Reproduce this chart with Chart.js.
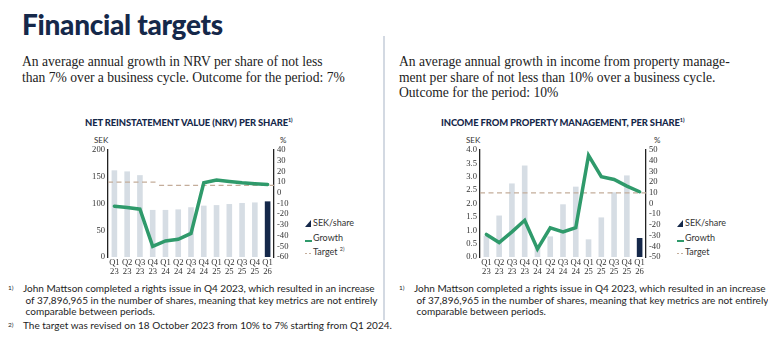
<!DOCTYPE html>
<html>
<head>
<meta charset="utf-8">
<script src="https://cdn.jsdelivr.net/npm/chart.js@4.4.1/dist/chart.umd.min.js"></script>
<style>
  body { margin: 0; width: 768px; height: 341px; background: #fff; position: relative; overflow: hidden; font-family: Lato, sans-serif; color: #2b2b2b; }
  .abs { position: absolute; white-space: nowrap; }
  h1 { position: absolute; left: 22px; top: 7px; margin: 0; font: 900 28px Lato, sans-serif; color: #15284a; letter-spacing: -0.3px; }
  .lead { position: absolute; font: 13.6px "Liberation Serif", serif; line-height: 15.5px; color: #222; }
  .ctitle { position: absolute; font: 900 9.4px Lato, sans-serif; color: #15284a; letter-spacing: -0.1px; white-space: nowrap; }
  .ctitle sup { font-size: 5.5px; }
  .unit { position: absolute; font: 8px Lato, sans-serif; color: #333; }
  .legend { position: absolute; font: 9px Lato, sans-serif; color: #333; white-space: nowrap; }
  .legend div { height: 14.5px; position: relative; padding-left: 8px; }
  .legend sup { font-size: 5.5px; }
  .icon-bar { position: absolute; left: 0; top: 3px; width: 0; height: 0; border-left: 6px solid transparent; border-bottom: 7px solid #15284a; }
  .icon-line { position: absolute; left: 0; top: 8px; width: 7px; height: 2px; background: #2f9a6b; }
  .icon-dash { position: absolute; left: 0; top: 7px; width: 8px; height: 1px; background: repeating-linear-gradient(90deg, #c4ad9a 0 2px, transparent 2px 4px); }
  .note { position: absolute; font: 10px Lato, sans-serif; color: #1e1e1e; line-height: 11.5px; white-space: nowrap; }
  .note .n { position: absolute; left: -15px; font-size: 6.5px; top: -1px; }
  .divider { position: absolute; left: 383px; top: 36px; width: 2px; height: 284px; background: #d3d9e2; }
</style>
</head>
<body>
<h1>Financial targets</h1>
<div class="lead" style="left:22px; top:54px;">An average annual growth in NRV per share of not less<br>than 7% over a business cycle. Outcome for the period: 7%</div>
<div class="lead" style="left:399px; top:54px;">An average annual growth in income from property manage-<br>ment per share of not less than 10% over a business cycle.<br>Outcome for the period: 10%</div>
<div class="divider"></div>

<div class="ctitle" style="left:85px; top:117px;">NET REINSTATEMENT VALUE (NRV) PER SHARE<sup>1)</sup></div>
<div class="ctitle" style="left:441px; top:117px;">INCOME FROM PROPERTY MANAGEMENT, PER SHARE<sup>1)</sup></div>

<div class="unit" style="left:94px; top:135px;">SEK</div>
<div class="unit" style="left:280px; top:135px;">%</div>
<div class="unit" style="left:466px; top:135px;">SEK</div>
<div class="unit" style="left:654px; top:135px;">%</div>

<canvas id="nrv" class="abs" style="left:80px; top:130px;"></canvas>
<canvas id="income" class="abs" style="left:452px; top:130px;"></canvas>

<div class="legend" style="left:305px; top:217px;">
  <div><span class="icon-bar"></span>SEK/share</div>
  <div><span class="icon-line"></span>Growth</div>
  <div><span class="icon-dash"></span>Target <sup>2)</sup></div>
</div>
<div class="legend" style="left:677px; top:217px;">
  <div><span class="icon-bar"></span>SEK/share</div>
  <div><span class="icon-line"></span>Growth</div>
  <div><span class="icon-dash"></span>Target</div>
</div>

<div class="note" style="left:23px; top:283px;"><span class="n">1)</span>John Mattson completed a rights issue in Q4 2023, which resulted in an increase<br>&nbsp;of 37,896,965 in the number of shares, meaning that key metrics are not entirely<br>&nbsp;comparable between periods.</div>
<div class="note" style="left:23px; top:320px;"><span class="n">2)</span>The target was revised on 18 October 2023 from 10% to 7% starting from Q1 2024.</div>
<div class="note" style="left:414px; top:283px;"><span class="n">1)</span>John Mattson completed a rights issue in Q4 2023, which resulted in an increase<br>&nbsp;of 37,896,965 in the number of shares, meaning that key metrics are not entirely<br>&nbsp;comparable between periods.</div>

<script>
const quarters = [
  ["Q1", "23"], ["Q2", "23"], ["Q3", "23"], ["Q4", "23"],
  ["Q1", "24"], ["Q2", "24"], ["Q3", "24"], ["Q4", "24"],
  ["Q1", "25"], ["Q2", "25"], ["Q3", "25"], ["Q4", "25"],
  ["Q1", "26"],
];

// NRV per share (SEK) and growth (%)
const nrvSek = [162, 160, 153, 88, 88, 89, 93, 96, 97, 99, 101, 102, 104];
const nrvGrowth = [-12.5, -13.7, -15.3, -50, -45, -43.4, -38, 9.4, 11.9, 10.6, 9.4, 8.5, 7.8];
const nrvTarget = [10, 10, 10, 10, 7, 7, 7, 7, 7, 7, 7, 7, 7];
const nrvSekTicks = [0, 50, 100, 150, 200];
const nrvPctTicks = [-60, -50, -40, -30, -20, -10, 0, 10, 20, 30, 40];

// Income from property management per share (SEK) and growth (%)
const incomeSek = [0.8, 1.55, 2.75, 3.42, 0.36, 0.77, 1.97, 2.63, 0.66, 1.48, 2.42, 3.05, 0.71];
const incomeGrowth = [-28.9, -36.5, -26.5, -15.7, -42.5, -22.8, -26.6, -22.5, 45, 25, 22.5, 16.2, 11];
const incomeTarget = [10, 10, 10, 10, 10, 10, 10, 10, 10, 10, 10, 10, 10];
const incomeSekTicks = [0, 0.5, 1, 1.5, 2, 2.5, 3, 3.5, 4];
const incomePctTicks = [-50, -40, -30, -20, -10, 0, 10, 20, 30, 40, 50];

const barColor = "#d6dde4";
const barHighlight = "#15284a";
const growthColor = "#2f9a6b";
const targetColor = "#c4ad9a";

// target drawn as flat segments across each quarter, broken where the value changes
const targetPoints = (values) => {
  const pts = [];
  values.forEach((v, i) => {
    if (i > 0 && values[i - 1] !== v) pts.push({ x: i - 0.5, y: null });
    pts.push({ x: i - 0.5, y: v });
    pts.push({ x: i + 0.5, y: v });
  });
  return pts;
};

const tickFont = { family: "Liberation Serif", size: 8.6, lineHeight: 0.95 };

const makeChart = (id, sek, growth, target, sekTicks, pctTicks, decimals) => {
  const canvas = document.getElementById(id);
  canvas.width = 222;
  canvas.height = 150;
  return new Chart(canvas.getContext("2d"), {
    data: {
      labels: quarters,
      datasets: [
        {
          type: "line",
          data: growth,
          yAxisID: "y1",
          borderColor: growthColor,
          borderWidth: 3.5,
          pointRadius: 0,
          borderCapStyle: "round",
          order: 0,
        },
        {
          type: "line",
          data: targetPoints(target),
          xAxisID: "xt",
          yAxisID: "y1",
          borderColor: targetColor,
          borderWidth: 1.2,
          borderDash: [5, 3.5],
          pointRadius: 0,
          spanGaps: false,
          order: 1,
        },
        {
          type: "bar",
          data: sek,
          yAxisID: "y",
          backgroundColor: sek.map((_, i) => (i === sek.length - 1 ? barHighlight : barColor)),
          grouped: false,
          barPercentage: 0.55,
          order: 2,
        },
      ],
    },
    options: {
      responsive: false,
      animation: false,
      devicePixelRatio: 1,
      layout: { padding: { top: 20, left: 0, right: 0, bottom: 0 } },
      plugins: { legend: { display: false }, tooltip: { enabled: false } },
      scales: {
        x: {
          type: "category",
          offset: true,
          grid: { display: false, drawTicks: false },
          border: { display: false },
          ticks: { color: "#333", font: tickFont, padding: 2, maxRotation: 0, autoSkip: false },
          afterFit: (s) => { s.height = 23; },
        },
        xt: {
          type: "linear",
          display: false,
          min: -0.5,
          max: quarters.length - 0.5,
        },
        y: {
          position: "left",
          min: sekTicks[0],
          max: sekTicks[sekTicks.length - 1],
          afterBuildTicks: (s) => { s.ticks = sekTicks.map((v) => ({ value: v })); },
          grid: { display: false, drawTicks: false },
          border: { display: true, color: "#222", width: 1.3 },
          ticks: {
            color: "#333",
            font: tickFont,
            padding: 3,
            autoSkip: false,
            callback: (v) => v.toFixed(decimals),
          },
          afterFit: (s) => { s.width = 28; },
        },
        y1: {
          position: "right",
          min: pctTicks[0],
          max: pctTicks[pctTicks.length - 1],
          afterBuildTicks: (s) => { s.ticks = pctTicks.map((v) => ({ value: v })); },
          grid: { display: false, drawTicks: false },
          border: { display: true, color: "#222", width: 1.3 },
          ticks: { color: "#333", font: tickFont, padding: 3, autoSkip: false },
          afterFit: (s) => { s.width = 28; },
        },
      },
    },
  });
};

makeChart("nrv", nrvSek, nrvGrowth, nrvTarget, nrvSekTicks, nrvPctTicks, 0);
makeChart("income", incomeSek, incomeGrowth, incomeTarget, incomeSekTicks, incomePctTicks, 1);
</script>
</body>
</html>
